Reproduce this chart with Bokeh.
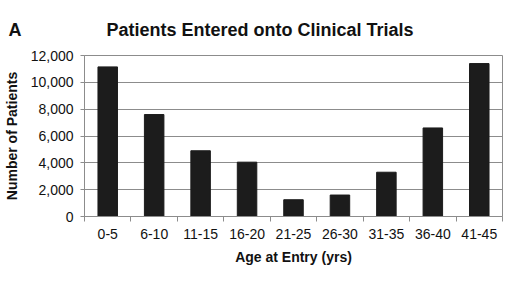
from bokeh.plotting import figure
from bokeh.models import FixedTicker, NumeralTickFormatter, Range1d
from bokeh.embed import file_html
from bokeh.resources import INLINE

categories = ["0-5", "6-10", "11-15", "16-20", "21-25", "26-30", "31-35", "36-40", "41-45"]
patients = [11150, 7600, 4900, 4050, 1250, 1600, 3300, 6600, 11400]
y_ticks = [0, 2000, 4000, 6000, 8000, 10000, 12000]
panel_letter = "A"
title_text = "Patients Entered onto Clinical Trials"

centers = [i + 0.5 for i in range(len(categories))]
bounds = [float(i) for i in range(len(categories) + 1)]

FONT = "Liberation Sans"
GRAY = "#8c8c8c"
INK = "#111111"

p = figure(width=504, height=267, output_backend="svg", toolbar_location=None,
           x_range=Range1d(0, len(categories)), y_range=Range1d(0, 12000),
           min_border_left=79, min_border_right=2, min_border_top=55, min_border_bottom=48)

p.vbar(x=centers, top=patients, width=0.42, fill_color="#1c1c1c", line_color="#1c1c1c")

p.title.text = panel_letter + "\u00a0" * 17 + title_text
p.title.text_font = FONT
p.title.text_font_size = "18px"
p.title.text_font_style = "bold"
p.title.text_color = INK
p.title.align = "left"
p.title.offset = -76
p.title.standoff = 32

p.outline_line_color = GRAY

xa = p.xaxis[0]
xa.ticker = FixedTicker(ticks=centers, minor_ticks=bounds)
xa.major_label_overrides = {c: lab for c, lab in zip(centers, categories)}
xa.major_tick_line_color = None
xa.major_tick_out = 5
xa.minor_tick_out = 5
xa.minor_tick_in = 0
xa.minor_tick_line_color = GRAY
xa.axis_line_color = GRAY
xa.major_label_standoff = 7
xa.major_label_text_font = FONT
xa.major_label_text_font_size = "14px"
xa.major_label_text_color = INK
xa.axis_label = "Age at Entry (yrs)"
xa.axis_label_text_font = FONT
xa.axis_label_text_font_size = "14px"
xa.axis_label_text_font_style = "bold"
xa.axis_label_text_color = INK
xa.axis_label_standoff = 7

ya = p.yaxis[0]
ya.ticker = FixedTicker(ticks=y_ticks)
ya.formatter = NumeralTickFormatter(format="0,0")
ya.major_tick_out = 4
ya.major_tick_in = 0
ya.minor_tick_line_color = None
ya.major_tick_line_color = GRAY
ya.axis_line_color = GRAY
ya.major_label_standoff = 7
ya.major_label_text_font = FONT
ya.major_label_text_font_size = "14px"
ya.major_label_text_color = INK
ya.axis_label = "Number of Patients"
ya.axis_label_text_font = FONT
ya.axis_label_text_font_style = "bold"
ya.axis_label_text_font_size = "14px"
ya.axis_label_text_color = INK
ya.axis_label_standoff = 8

p.xgrid.grid_line_color = None
p.ygrid.ticker = FixedTicker(ticks=y_ticks)
p.ygrid.grid_line_color = GRAY

open("out.html", "w").write(file_html(p, INLINE))
